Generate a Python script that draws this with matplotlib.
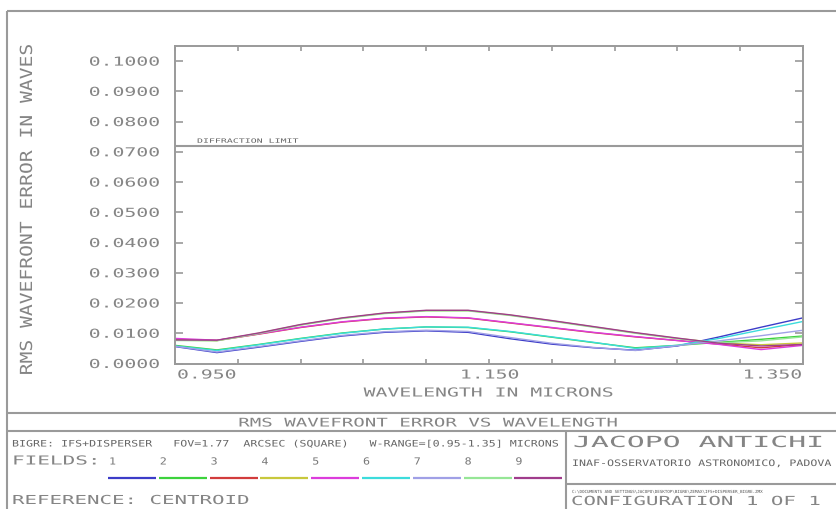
import matplotlib
matplotlib.use('Agg')
import matplotlib.pyplot as plt
from matplotlib.patheffects import AbstractPathEffect
from matplotlib.transforms import Affine2D, offset_copy, blended_transform_factory
from matplotlib.lines import Line2D

# ---------------- data ----------------
wavelengths = [0.9500, 0.9767, 1.0033, 1.0300, 1.0567, 1.0833, 1.1100, 1.1367,
               1.1633, 1.1900, 1.2167, 1.2433, 1.2700, 1.2967, 1.3233, 1.3500]

field_1 = [0.0056, 0.0036, 0.0054, 0.0073, 0.0091, 0.0103, 0.0108, 0.0103,
           0.0082, 0.0064, 0.0052, 0.0044, 0.0058, 0.0088, 0.0120, 0.0151]
field_2 = [0.0060, 0.0045, 0.0063, 0.0083, 0.0101, 0.0114, 0.0121, 0.0119,
           0.0105, 0.0087, 0.0069, 0.0052, 0.0060, 0.0070, 0.0080, 0.0091]
field_3 = [0.0080, 0.0076, 0.0097, 0.0119, 0.0137, 0.0149, 0.0154, 0.0150,
           0.0134, 0.0118, 0.0102, 0.0088, 0.0076, 0.0064, 0.0052, 0.0063]
field_4 = [0.0077, 0.0076, 0.0100, 0.0128, 0.0150, 0.0166, 0.0175, 0.0175,
           0.0160, 0.0141, 0.0121, 0.0101, 0.0083, 0.0068, 0.0062, 0.0068]
field_5 = [0.0083, 0.0077, 0.0098, 0.0120, 0.0138, 0.0150, 0.0155, 0.0151,
           0.0135, 0.0119, 0.0103, 0.0089, 0.0076, 0.0063, 0.0046, 0.0060]
field_6 = [0.0058, 0.0043, 0.0062, 0.0082, 0.0100, 0.0114, 0.0121, 0.0120,
           0.0106, 0.0088, 0.0070, 0.0050, 0.0060, 0.0083, 0.0111, 0.0139]
field_7 = [0.0057, 0.0038, 0.0056, 0.0075, 0.0093, 0.0105, 0.0110, 0.0106,
           0.0086, 0.0067, 0.0053, 0.0043, 0.0059, 0.0075, 0.0092, 0.0110]
field_8 = [0.0076, 0.0075, 0.0099, 0.0127, 0.0149, 0.0165, 0.0174, 0.0174,
           0.0159, 0.0140, 0.0120, 0.0100, 0.0082, 0.0068, 0.0075, 0.0088]
field_9 = [0.0078, 0.0077, 0.0101, 0.0129, 0.0151, 0.0167, 0.0176, 0.0176,
           0.0161, 0.0142, 0.0122, 0.0102, 0.0084, 0.0067, 0.0058, 0.0063]

fields = [field_1, field_2, field_3, field_4, field_5,
          field_6, field_7, field_8, field_9]
field_labels = ['1', '2', '3', '4', '5', '6', '7', '8', '9']
field_colors = ['#3c3cc8', '#3cd23c', '#d23c3c', '#c8c83c', '#dc3cdc',
                '#3cdcdc', '#a0a0e6', '#96e696', '#a03c8c']

y_ticks = [0.00, 0.01, 0.02, 0.03, 0.04, 0.05, 0.06, 0.07, 0.08, 0.09, 0.10]
y_tick_labels = ['0.0000', '0.0100', '0.0200', '0.0300', '0.0400', '0.0500',
                 '0.0600', '0.0700', '0.0800', '0.0900', '0.1000']
x_ticks = [0.95, 0.99, 1.03, 1.07, 1.11, 1.15, 1.19, 1.23, 1.27, 1.31, 1.35]
x_label_ticks = [0.95, 1.15, 1.35]
x_tick_labels = ['0.950', '1.150', '1.350']
diffraction_limit = 0.072

# ---------------- helpers ----------------
W, H = 836, 510
GRAY = '#858585'
LINE_GRAY = '#9a9a9a'
FONT = 'DejaVu Sans Mono'


class Stretch(AbstractPathEffect):
    """Widen glyphs horizontally (plotter-style wide font)."""
    def __init__(self, sx, anchor='left'):
        super().__init__()
        self.sx = sx
        self.anchor = anchor

    def draw_path(self, renderer, gc, tpath, affine, rgbFace=None):
        ext = tpath.get_extents()
        if self.anchor == 'left':
            p = 0.0
        elif self.anchor == 'center':
            p = 0.5 * (ext.x0 + ext.x1)
        else:
            p = ext.x1
        t = Affine2D().translate(-p, 0).scale(self.sx, 1.0).translate(p, 0)
        renderer.draw_path(gc, tpath, t + affine, rgbFace)


def ftext(x, y, s, size, sx, ha='left', color=GRAY, **kw):
    return fig.text(x / W, 1 - y / H, s, fontsize=size, family=FONT,
                    color=color, ha=ha, va='baseline',
                    path_effects=[Stretch(sx, ha)], **kw)


def fline(x0, y0, x1, y1, color=LINE_GRAY, lw=1.5):
    fig.add_artist(Line2D([x0 / W, x1 / W], [1 - y0 / H, 1 - y1 / H],
                          transform=fig.transFigure, color=color, lw=lw,
                          solid_capstyle='butt'))


# ---------------- figure ----------------
fig = plt.figure(figsize=(W / 100, H / 100), dpi=100)
ax = fig.add_axes([175 / W, 1 - 364.5 / H, (803 - 175) / W, (364.5 - 47) / H])

for vals, col in zip(fields, field_colors):
    ax.plot(wavelengths, vals, color=col, lw=1.0, solid_joinstyle='round')

ax.axhline(diffraction_limit, color=LINE_GRAY, lw=1.5)

ax.set_xlim(0.95, 1.35)
ax.set_ylim(0.0, 0.105)
ax.set_xticks(x_ticks)
ax.set_yticks(y_ticks)
ax.set_xticklabels([])
ax.set_yticklabels([])
ax.tick_params(axis='y', direction='in', length=6, width=1.2, color=LINE_GRAY,
               left=True, right=True)
ax.tick_params(axis='x', direction='in', length=3.8, width=1.2, color=LINE_GRAY,
               bottom=True, top=True)
for sp in ax.spines.values():
    sp.set_color(LINE_GRAY)
    sp.set_linewidth(1.4)

# y tick labels
ytrans = blended_transform_factory(ax.transAxes, ax.transData)
ytrans = offset_copy(ytrans, fig=fig, x=-15, y=-4.5, units='dots')
for v, lab in zip(y_ticks, y_tick_labels):
    ax.text(0, v, lab, transform=ytrans, fontsize=8.9, family=FONT, color=GRAY,
            ha='right', va='baseline', path_effects=[Stretch(1.6, 'right')])

# x tick labels
xtrans = blended_transform_factory(ax.transData, ax.transAxes)
for v, lab, ha, dx in zip(x_label_ticks, x_tick_labels,
                          ['left', 'center', 'right'], [2, 1, -1]):
    tr = offset_copy(xtrans, fig=fig, x=dx, y=-15, units='dots')
    ax.text(v, 0, lab, transform=tr, fontsize=8.9, family=FONT, color=GRAY,
            ha=ha, va='baseline', path_effects=[Stretch(1.6, ha)])

# diffraction limit label
dtrans = offset_copy(blended_transform_factory(ax.transAxes, ax.transData),
                     fig=fig, x=22, y=3, units='dots')
ax.text(0, diffraction_limit, 'DIFFRACTION LIMIT', transform=dtrans,
        fontsize=4.3, family=FONT, color='#666666', ha='left', va='baseline',
        path_effects=[Stretch(1.66, 'left')])

# axis labels
ftext(489, 397.5, 'WAVELENGTH IN MICRONS', 8.9, 1.6, ha='center')
fig.text(32 / W, 1 - 211 / H, 'RMS WAVEFRONT ERROR IN WAVES', fontsize=12.0,
         family=FONT, color=GRAY, rotation=90, rotation_mode='anchor',
         ha='center', va='baseline', path_effects=[Stretch(1.18, 'center')])

# ---------------- frame / info block ----------------
fline(7, 12, W, 12)
fline(7, 12, 7, H)
fline(7, 414, W, 414)
fline(7, 432, W, 432)
fline(566, 432, 566, H)
fline(566, 485, W, 485)

ftext(427, 427.5, 'RMS WAVEFRONT ERROR VS WAVELENGTH', 8.6, 1.6, ha='center')
ftext(12, 447.5, 'BIGRE: IFS+DISPERSER   FOV=1.77  ARCSEC (SQUARE)   '
      'W-RANGE=[0.95-1.35] MICRONS', 6.4, 1.31, color='#666666')
ftext(12, 465.5, 'FIELDS:', 8.9, 1.7)
for i, (lab, col) in enumerate(zip(field_labels, field_colors)):
    x0 = 108 + i * 50.8
    ftext(x0 + 1, 465.5, lab, 7.0, 1.2, color='#777777')
    fline(x0, 479, x0 + 48, 479, color=col, lw=1.6)
ftext(12, 505, 'REFERENCE: CENTROID', 8.9, 1.68)

ftext(573, 448, 'JACOPO ANTICHI', 11.0, 1.95)
ftext(572, 467, 'INAF-OSSERVATORIO ASTRONOMICO, PADOVA', 6.4, 1.31,
      color='#666666')
ftext(572, 494, 'C:\\DOCUMENTS AND SETTINGS\\JACOPO\\DESKTOP\\BIGRE\\ZEMAX\\'
      'IFS+DISPERSER_BIGRE.ZMX', 3.0, 1.0, color='#555555')
ftext(571, 506, 'CONFIGURATION 1 OF 1', 9.0, 1.66)

fig.savefig('out.png', dpi=100)
